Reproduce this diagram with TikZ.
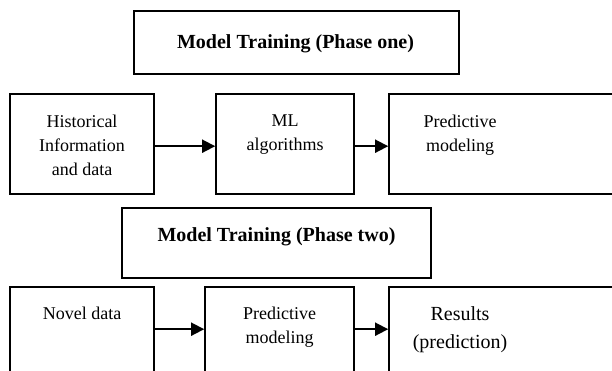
\documentclass[tikz,border=0pt]{standalone}
\usepackage{fontspec}
\setmainfont{Liberation Serif}
\usetikzlibrary{arrows.meta}

\begin{document}
\begin{tikzpicture}[x=1pt, y=1pt, box/.style={draw, line width=1.6pt, inner sep=0pt}, txt/.style={inner sep=0pt, align=center, font=\fontsize{18}{24}\selectfont}, head/.style={inner sep=0pt, font=\bfseries\fontsize{20}{24}\selectfont}, arr/.style={-{Triangle[length=13pt,width=13pt]}, line width=1.8pt}]
    \useasboundingbox (0,0) rectangle (612,371);
    \clip (0,0) rectangle (612,371);

    % phase one
    \node[box, minimum width=325, minimum height=63] (t1) at (296.5,328.5) {};
    \node[head, anchor=base] (t1l) at (295.5,322) {Model Training (Phase one)};
    \node[box, minimum width=144, minimum height=100] (b1) at (82,227) {};
    \node[box, minimum width=138, minimum height=100] (b2) at (285,227) {};
    \node[box, minimum width=236, minimum height=100] (b3) at (507,227) {};
    \node[txt, anchor=north] (b1l) at (82,256) {Historical\\Information\\and data};
    \node[txt, anchor=north] (b2l) at (285,256) {ML\\algorithms};
    \node[txt, anchor=north] (b3l) at (460,256) {Predictive\\modeling};

    \draw[arr] ([yshift=-53pt]b1.north east) -- ([yshift=-53pt]b2.north west);
    \draw[arr] ([yshift=-53pt]b2.north east) -- ([yshift=-53pt]b3.north west);

    % phase two
    \node[box, minimum width=309, minimum height=70] (t2) at (276.5,128) {};
    \node[head, anchor=base] (t2l) at (276.5,129) {Model Training (Phase two)};
    \node[box, minimum width=144, minimum height=103] (b4) at (82,32.5) {};
    \node[box, minimum width=149, minimum height=103] (b5) at (279.5,32.5) {};
    \node[box, minimum width=236, minimum height=103] (b6) at (507,32.5) {};
    \node[txt, anchor=north] (b4l) at (82,64) {Novel data};
    \node[txt, anchor=north] (b5l) at (279.5,64) {Predictive\\modeling};
    \node[txt, anchor=north, font=\fontsize{20}{28}\selectfont] (b6l) at (460,65) {Results\\(prediction)};

    \draw[arr] ([yshift=-43pt]b4.north east) -- ([yshift=-43pt]b5.north west);
    \draw[arr] ([yshift=-43pt]b5.north east) -- ([yshift=-43pt]b6.north west);
\end{tikzpicture}
\end{document}
